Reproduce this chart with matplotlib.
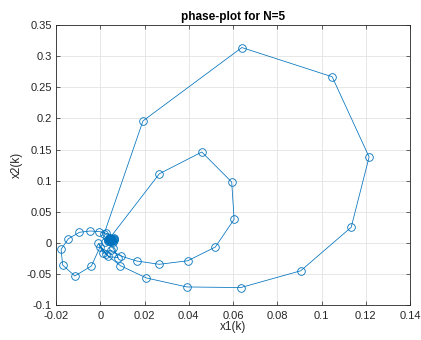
import matplotlib
matplotlib.use("Agg")
import matplotlib.pyplot as plt
from matplotlib.ticker import FuncFormatter

plt.rcParams['font.family'] = ['Liberation Sans', 'DejaVu Sans']

# state trajectory (x1, x2)
x1 = [0.0017, 0.0193, 0.0640, 0.1048, 0.1215, 0.1134, 0.0906, 0.0635, 0.0391,
      0.0209, 0.0091, 0.0026, 0.0000, -0.0040, -0.0115, -0.0170, -0.0177,
      -0.0144, -0.0094, -0.0045, -0.0004, 0.0026, 0.0044, 0.0267, 0.0459,
      0.0594, 0.0605, 0.0520, 0.0396, 0.0267, 0.0165, 0.0093, 0.0047, 0.0014,
      -0.0008, 0.0037, 0.0080, 0.0059, 0.0020, 0.0030, 0.0062, 0.0058, 0.0035,
      0.0040, 0.0056, 0.0050, 0.0042, 0.0047, 0.0052, 0.0048,
      0.0038, 0.0060, 0.0044, 0.0055, 0.0034, 0.0064, 0.0046, 0.0053, 0.0041,
      0.0049, 0.0045, 0.0050]
x2 = [0.0140, 0.1960, 0.3140, 0.2670, 0.1380, 0.0250, -0.0450, -0.0720, -0.0710,
      -0.0566, -0.0368, -0.0185, -0.0060, -0.0373, -0.0534, -0.0357, -0.0105,
      0.0066, 0.0169, 0.0190, 0.0180, 0.0153, 0.0080, 0.1110, 0.1460,
      0.0977, 0.0378, -0.0068, -0.0288, -0.0346, -0.0293, -0.0212, -0.0116, -0.0170,
      -0.0008, -0.0220, -0.0240, -0.0090, 0.0020, 0.0090, 0.0080, 0.0020, 0.0030,
      0.0070, 0.0060, 0.0035, 0.0050, 0.0062, 0.0048, 0.0052,
      0.0055, 0.0040, 0.0068, 0.0030, 0.0045, 0.0058, 0.0036, 0.0064, 0.0050,
      0.0044, 0.0056, 0.0049]

xticks = [-0.02, 0, 0.02, 0.04, 0.06, 0.08, 0.1, 0.12, 0.14]
yticks = [-0.1, -0.05, 0, 0.05, 0.1, 0.15, 0.2, 0.25, 0.3, 0.35]

fig = plt.figure(figsize=(4.21, 3.40), dpi=100)
ax = fig.add_axes([0.133, 0.103, 0.841, 0.823])

ax.plot(x1, x2, '-o', color='#0072BD', linewidth=0.55, markersize=5.5,
        markerfacecolor='none', markeredgewidth=0.6)

ax.set_xlim(-0.02, 0.14)
ax.set_ylim(-0.1, 0.35)
ax.set_xticks(xticks)
ax.set_yticks(yticks)
fmt = FuncFormatter(lambda v, p: '%g' % round(v, 4))
ax.xaxis.set_major_formatter(fmt)
ax.yaxis.set_major_formatter(fmt)

ax.grid(True, color='#e3e3e3', linewidth=0.6)
ax.set_axisbelow(True)
ax.tick_params(direction='in', length=3, width=0.5, labelsize=8,
               colors='#262626', top=True, right=True)
ax.tick_params(axis='x', pad=4)
ax.tick_params(axis='y', pad=3)
for s in ax.spines.values():
    s.set_color('#262626')
    s.set_linewidth(0.6)

ax.set_xlabel('x1(k)', fontsize=8.5, color='#262626', labelpad=0)
ax.set_ylabel('x2(k)', fontsize=8.5, color='#262626', labelpad=3)
ax.set_title('phase-plot for N=5', fontsize=8.5, fontweight='bold', pad=4)

fig.savefig('out.png', dpi=100)
